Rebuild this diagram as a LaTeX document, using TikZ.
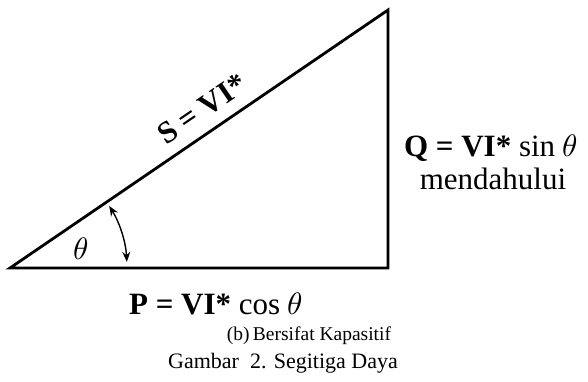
\documentclass[tikz,border=0pt]{standalone}
\usepackage{fontspec}
\setmainfont{Liberation Serif}
\usepackage{unicode-math}
\setmathfont{Latin Modern Math}
\usetikzlibrary{arrows.meta}
\begin{document}
\begin{tikzpicture}[x=1pt,y=-1pt,
  side/.style={line width=2.8pt,line cap=round,line join=miter},
  lbl/.style={font=\fontsize{31}{35}\selectfont,inner sep=0pt},
  capa/.style={font=\fontsize{19.5}{22}\selectfont,inner sep=0pt},
  capb/.style={font=\fontsize{22}{26}\selectfont,inner sep=0pt}]
\useasboundingbox (0,0) rectangle (588,381);
\coordinate (O) at (10,268);
\coordinate (R) at (388,268);
\coordinate (T) at (388,10);
\draw[side] (O) -- (R) -- (T) -- cycle;
\draw[line width=1.4pt,{Stealth[length=10pt,width=8pt]}-{Stealth[length=10pt,width=8pt]}]
  (O) ++(-32:117) arc[start angle=-32,end angle=-3,radius=117];
\node[lbl] (th) at (81,249) {$\theta$};
\node[lbl,rotate=34.3] (S) at (202,109) {\textbf{S = VI*}};
\node[lbl] (Q) at (491,148) {\textbf{Q = VI*} sin $\theta$};
\node[lbl] (m) at (493,179) {mendahului};
\node[lbl] (P) at (216,304) {\textbf{P = VI*} cos $\theta$};
\node[capa] (b) at (309,336) {(b)\,Bersifat Kapasitif};
\node[capb] (g) at (283,363) {Gambar\ \ 2. Segitiga Daya};
\end{tikzpicture}
\end{document}
